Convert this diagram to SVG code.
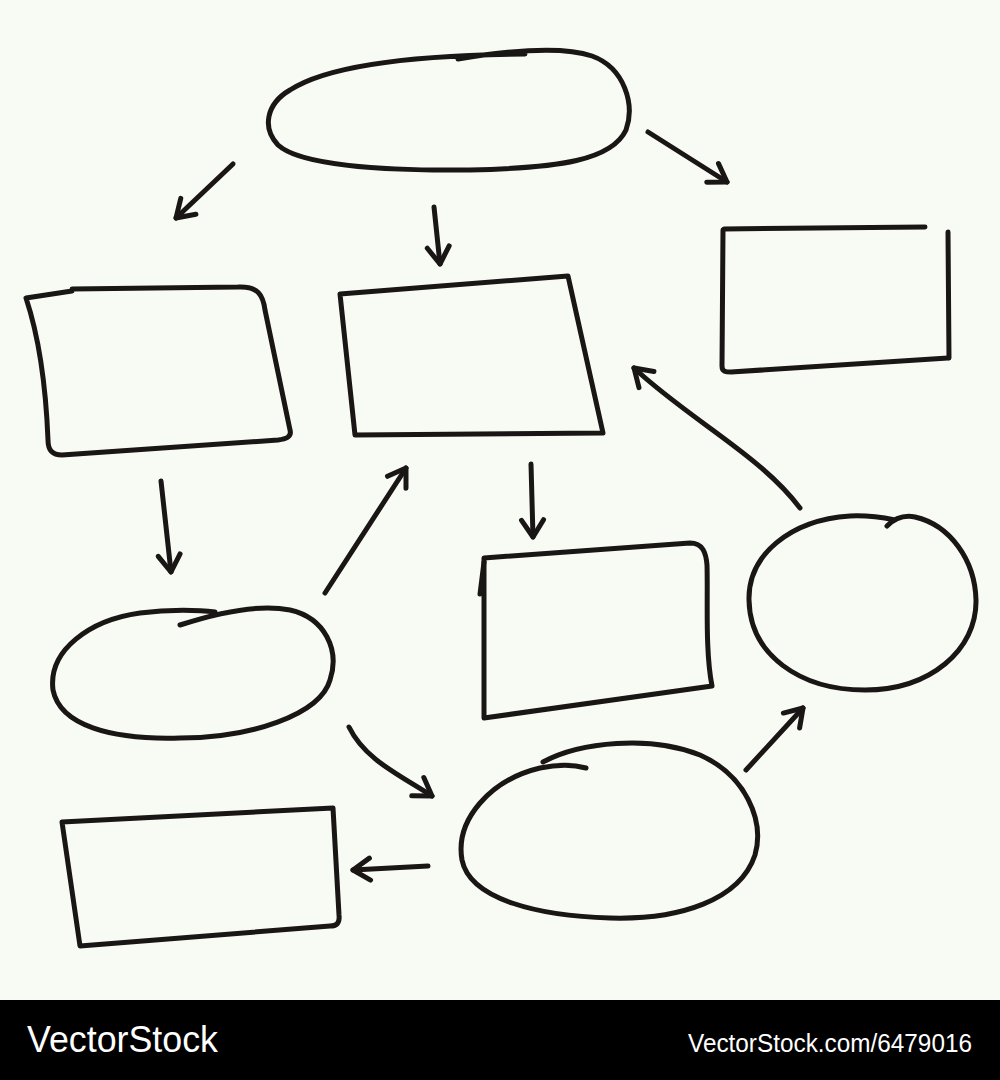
<svg xmlns="http://www.w3.org/2000/svg" width="1000" height="1080" viewBox="0 0 1000 1080">
<defs>
<style>
.s{fill:none;stroke:#1a1616;stroke-width:5;stroke-linecap:round;stroke-linejoin:round}
.a{fill:none;stroke:#1a1616;stroke-width:5;stroke-linecap:round;stroke-linejoin:round;marker-end:url(#h)}
.wm{fill:#ffffff;font-family:"Liberation Sans",Arial,sans-serif}
</style>
<marker id="h" viewBox="0 0 30 30" refX="22" refY="15" markerWidth="30" markerHeight="30" markerUnits="userSpaceOnUse" orient="auto">
<path d="M5,4 L22,15 L5,26" fill="none" stroke="#1a1616" stroke-width="5" stroke-linecap="round" stroke-linejoin="round"/>
</marker>
</defs>
<rect x="0" y="0" width="1000" height="1000" fill="#f7fbf4"/>

<g id="node-top-ellipse">
<path class="s" d="M458,59 C500,52 560,45 592,56 C625,68 635,105 626,130 C612,160 560,168 470,170 C380,171 300,165 278,145 C262,128 266,104 290,90 C330,64 420,55 525,54"/>
</g>
<g id="node-top-left-rect">
<path class="s" d="M26,298 L72,291 L72,289 L238,287 C258,286 263,295 265,310 L290,430 C292,437 286,439 278,440 L62,455 C52,455 48,450 48,440 C46,390 40,340 26,298 Z"/>
</g>
<g id="node-center-rect">
<path class="s" d="M340,294 L568,276 L603,433 L355,435 Z"/>
</g>
<g id="node-top-right-rect">
<path class="s" d="M724,229 L925,227"/>
<path class="s" d="M948,232 L949,358"/>
<path class="s" d="M723,230 L722,366 C722,372 726,372 731,372 L948,358"/>
</g>
<g id="node-left-ellipse">
<path class="s" d="M180,625 C220,612 260,604 290,610 C325,618 340,650 330,680 C320,715 250,738 180,738 C110,740 60,725 53,690 C48,650 90,620 140,613 C170,609 200,610 215,612"/>
</g>
<g id="node-mid-rect">
<path class="s" d="M484,558 L690,543 C703,543 706,553 707,565 C708,600 705,650 712,686 L484,718 Z"/>
<path class="s" d="M484,562 L480,594"/>
</g>
<g id="node-right-circle">
<path class="s" d="M887,526 C895,518 905,515 915,517 C950,525 975,560 976,600 C977,650 930,690 865,690 C800,690 750,655 749,600 C748,555 790,520 850,516 C870,515 885,518 895,520"/>
</g>
<g id="node-bottom-ellipse">
<path class="s" d="M543,762 C580,742 650,735 700,755 C745,775 765,820 755,855 C740,900 680,920 610,918 C540,916 470,900 462,860 C455,820 490,780 540,768 C560,764 575,765 586,768"/>
</g>
<g id="node-bottom-left-rect">
<path class="s" d="M62,822 L333,808 L339,915 C340,924 336,926 330,926 L80,946 Z"/>
</g>

<g id="connectors">
<path class="a" d="M233,164 L176,218"/>
<path class="a" d="M434,207 L440,264"/>
<path class="a" d="M648,132 L727,182"/>
<path class="a" d="M161,481 L171,572"/>
<path class="a" d="M325,593 L406,468"/>
<path class="a" d="M531,464 L533,537"/>
<path class="a" d="M800,508 C760,455 690,420 634,368"/>
<path class="a" d="M349,727 C365,760 400,775 432,796"/>
<path class="a" d="M428,866 L353,870"/>
<path class="a" d="M746,770 L803,708"/>
</g>

<rect x="0" y="1000" width="1000" height="80" fill="#000000"/>
<text class="wm" x="27" y="1052" font-size="36" textLength="191" lengthAdjust="spacingAndGlyphs">VectorStock</text>
<text class="wm" x="688" y="1052" font-size="25" textLength="284" lengthAdjust="spacingAndGlyphs">VectorStock.com/6479016</text>
</svg>
